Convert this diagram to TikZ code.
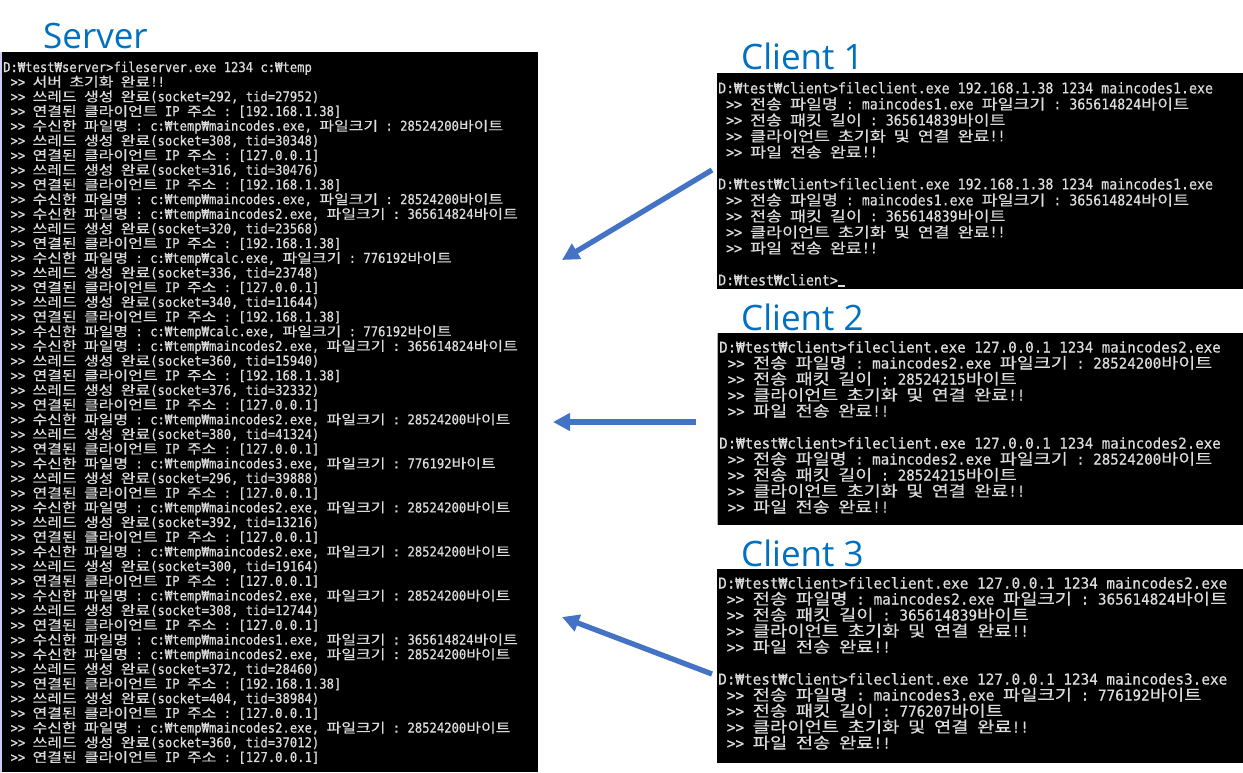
\documentclass[tikz,border=0pt]{standalone}
\usepackage{fontspec}
\usetikzlibrary{arrows.meta}
\newfontfamily\latA[FakeStretch=0.9,FakeBold=0.5]{DejaVu Sans Mono}
\newfontfamily\latB[FakeStretch=0.96,FakeBold=0.5]{DejaVu Sans Mono}
\newfontfamily\krfam[FakeStretch=1.208,FakeBold=0.5]{Noto Sans CJK KR}
\newfontfamily\titlefont{Open Sans}
\definecolor{con}{HTML}{DCDCDC}
\definecolor{titleblue}{HTML}{0070C0}
\definecolor{arrblue}{HTML}{4472C4}
\newcommand\hgsz{14}
\newcommand\hg[1]{{\krfam\fontsize{\hgsz}{14}\selectfont #1}}
% console font: family, latin size, pitch, line spacing
\newcommand\conset[4]{#1\fontsize{#2}{#4}\selectfont\frenchspacing
  \spaceskip=#3pt plus 0pt minus 0pt\relax
  \xspaceskip=#3pt plus 0pt minus 0pt\relax
  \edef\hgsz{\fpeval{1.8*#3}}}
\newcommand\sThr[2]{~>> \hg{쓰레드} \hg{생성} \hg{완료}(socket=#1, tid=#2)}
\newcommand\sCon[1]{~>> \hg{연결된} \hg{클라이언트} IP \hg{주소} : [#1]}
\newcommand\sRcv[2]{~>> \hg{수신한} \hg{파일명} : c:₩temp₩#1, \hg{파일크기} : #2\hg{바이트}}
\newcommand\cCmd[2]{D:₩test₩client>fileclient.exe #1 1234 #2}
\newcommand\cFile[2]{~>> \hg{전송} \hg{파일명} : #1 \hg{파일크기} : #2\hg{바이트}}
\newcommand\cPkt[1]{~>> \hg{전송} \hg{패킷} \hg{길이} : #1\hg{바이트}}
\newcommand\cInit{~>> \hg{클라이언트} \hg{초기화} \hg{및} \hg{연결} \hg{완료}!!}
\newcommand\cDone{~>> \hg{파일} \hg{전송} \hg{완료}!!}
\begin{document}
\begin{tikzpicture}[x=1pt,y=-1pt,
  title/.style={font=\titlefont\fontsize{35}{40}\selectfont, text=titleblue, inner sep=0pt, anchor=base west},
  contxt/.style={text=con, inner sep=0pt, anchor=base west},
  srvtxt/.style={contxt, text height=10pt, text depth=3.5pt, font={\conset{\latA}{13.566}{7.35}{14.68}}},
  ctxtA/.style={contxt, text height=11pt, text depth=4pt, font={\conset{\latA}{14.73}{7.98}{16}}},
  ctxtB/.style={contxt, text height=11pt, text depth=4pt, font={\conset{\latB}{14.71}{8.5}{16}}},
  ctxtC/.style={contxt, text height=11pt, text depth=4pt, font={\conset{\latB}{14.93}{8.63}{16}}},
  arr/.style={draw=arrblue, line width=5.3pt, -{Triangle[length=17pt,width=17pt]}}
]
\useasboundingbox (0,0) rectangle (1243,772);
\fill[white] (0,0) rectangle (1243,772);
% panels
\fill[black] (2,52) rectangle (538,772);
\fill[black!8!blue!20] (0,52) rectangle (2,772);
\fill[black] (717,73) rectangle (1243,289);
\fill[black] (718,333) rectangle (1243,525);
\draw[gray!60, line width=1pt] (717.5,333) -- (717.5,525);
\fill[black] (717,569) rectangle (1243,763);
% titles
\node[title] (tS) at (43,48) {Server};
\node[title] (tC1) at (741,69) {Client 1};
\node[title] (tC2) at (741,330) {Client 2};
\node[title] (tC3) at (741,566) {Client 3};
% server text
\foreach \t [count=\i] in {
{D:₩test₩server>fileserver.exe 1234 c:₩temp},
{~>> \hg{서버} \hg{초기화} \hg{완료}!!},
{\sThr{292}{27952}},
{\sCon{192.168.1.38}},
{\sRcv{maincodes.exe}{28524200}},
{\sThr{308}{30348}},
{\sCon{127.0.0.1}},
{\sThr{316}{30476}},
{\sCon{192.168.1.38}},
{\sRcv{maincodes.exe}{28524200}},
{\sRcv{maincodes2.exe}{365614824}},
{\sThr{320}{23568}},
{\sCon{192.168.1.38}},
{\sRcv{calc.exe}{776192}},
{\sThr{336}{23748}},
{\sCon{127.0.0.1}},
{\sThr{340}{11644}},
{\sCon{192.168.1.38}},
{\sRcv{calc.exe}{776192}},
{\sRcv{maincodes2.exe}{365614824}},
{\sThr{360}{15940}},
{\sCon{192.168.1.38}},
{\sThr{376}{32332}},
{\sCon{127.0.0.1}},
{\sRcv{maincodes2.exe}{28524200}},
{\sThr{380}{41324}},
{\sCon{127.0.0.1}},
{\sRcv{maincodes3.exe}{776192}},
{\sThr{296}{39888}},
{\sCon{127.0.0.1}},
{\sRcv{maincodes2.exe}{28524200}},
{\sThr{392}{13216}},
{\sCon{127.0.0.1}},
{\sRcv{maincodes2.exe}{28524200}},
{\sThr{300}{19164}},
{\sCon{127.0.0.1}},
{\sRcv{maincodes2.exe}{28524200}},
{\sThr{308}{12744}},
{\sCon{127.0.0.1}},
{\sRcv{maincodes1.exe}{365614824}},
{\sRcv{maincodes2.exe}{28524200}},
{\sThr{372}{28460}},
{\sCon{192.168.1.38}},
{\sThr{404}{38984}},
{\sCon{127.0.0.1}},
{\sRcv{maincodes2.exe}{28524200}},
{\sThr{360}{37012}},
{\sCon{127.0.0.1}}}
  \node[srvtxt] (s\i) at (3,{72+(\i-1)*14.68}) {\t};
% client 1
\foreach \n/\t in {
1/{\cCmd{192.168.1.38}{maincodes1.exe}},
2/{\cFile{maincodes1.exe}{365614824}},
3/{\cPkt{365614839}},
4/{\cInit},
5/{\cDone},
7/{\cCmd{192.168.1.38}{maincodes1.exe}},
8/{\cFile{maincodes1.exe}{365614824}},
9/{\cPkt{365614839}},
10/{\cInit},
11/{\cDone},
13/{D:₩test₩client>\rule[-2pt]{7pt}{2.5pt}}}
  \node[ctxtA] (a\n) at (718,{93.4+(\n-1)*16}) {\t};
% client 2
\foreach \n/\t in {
1/{\cCmd{127.0.0.1}{maincodes2.exe}},
2/{\cFile{maincodes2.exe}{28524200}},
3/{\cPkt{28524215}},
4/{\cInit},
5/{\cDone},
7/{\cCmd{127.0.0.1}{maincodes2.exe}},
8/{\cFile{maincodes2.exe}{28524200}},
9/{\cPkt{28524215}},
10/{\cInit},
11/{\cDone}}
  \node[ctxtB] (b\n) at (719,{352.5+(\n-1)*16}) {\t};
% client 3
\foreach \n/\t in {
1/{\cCmd{127.0.0.1}{maincodes2.exe}},
2/{\cFile{maincodes2.exe}{365614824}},
3/{\cPkt{365614839}},
4/{\cInit},
5/{\cDone},
7/{\cCmd{127.0.0.1}{maincodes3.exe}},
8/{\cFile{maincodes3.exe}{776192}},
9/{\cPkt{776207}},
10/{\cInit},
11/{\cDone}}
  \node[ctxtC] (c\n) at (718,{588.5+(\n-1)*16}) {\t};
% arrows
\coordinate (a1s) at (712,170);
\coordinate (a1e) at (562,260);
\coordinate (a2s) at (696,422);
\coordinate (a2e) at (553,422);
\coordinate (a3s) at (712,674);
\coordinate (a3e) at (562,617);
\draw[arr] (a1s) -- (a1e);
\draw[arr] (a2s) -- (a2e);
\draw[arr] (a3s) -- (a3e);
\end{tikzpicture}
\end{document}
